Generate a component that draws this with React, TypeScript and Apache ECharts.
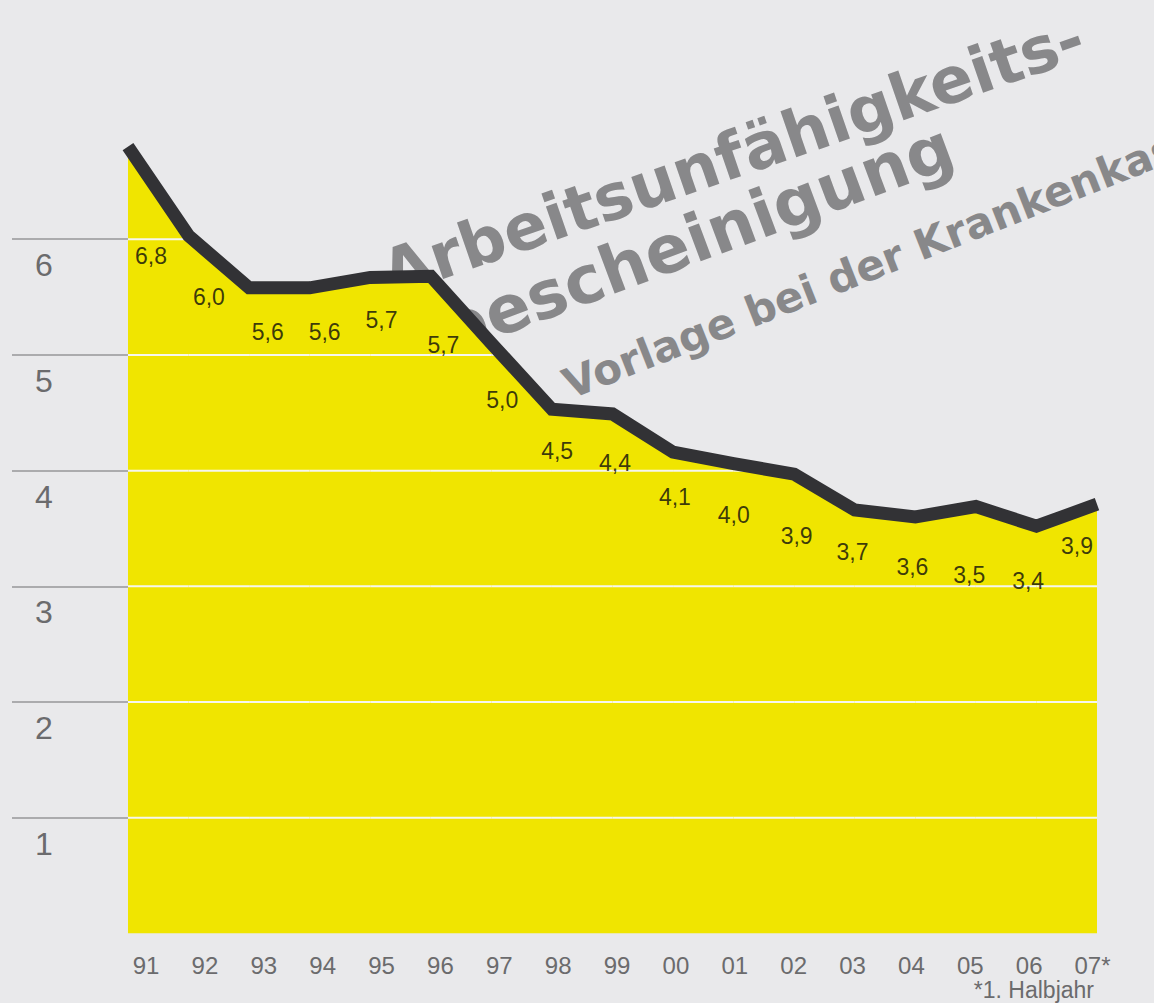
import React, { useEffect, useRef } from "react";
import * as echarts from "echarts";

// ---- data ----
const years = ["91", "92", "93", "94", "95", "96", "97", "98", "99", "00", "01", "02", "03", "04", "05", "06", "07*"];
// values as traced by the drawn line
const lineValues = [6.8, 6.03, 5.58, 5.58, 5.67, 5.68, 5.1, 4.53, 4.49, 4.16, 4.06, 3.97, 3.66, 3.6, 3.69, 3.52, 3.71];
// printed values
const labelValues = [6.8, 6.0, 5.6, 5.6, 5.7, 5.7, 5.0, 4.5, 4.4, 4.1, 4.0, 3.9, 3.7, 3.6, 3.5, 3.4, 3.9];
const yTicks = [1, 2, 3, 4, 5, 6];
const footnote = "*1. Halbjahr";
const watermark = ["Arbeitsunfähigkeits-", "bescheinigung", "Vorlage bei der Krankenkasse"];

// ---- styles ----
const BG = "#e9e9eb";
const YELLOW = "#f0e500";
const LINE = "#323235";
const GRID_WHITE = "#f6f6ee";
const TICK_GRAY = "#ababad";
const AXIS_TEXT = "#6b6b6d";
const WM_GRAY = "#88888a";
const FONT = "'Liberation Sans', Arial, Helvetica, sans-serif";
const WM_FONT = "'DejaVu Sans', sans-serif";
const Y_MAX = 7;
const LABEL_BASE_DY = 46;
// per-label layout nudges [dx, dy]
const labelNudge = [
  [5, 63], [4, 12], [4, 0], [2, 0], [0, 0], [3, 25], [3, -1], [-1, -8], [-2, -7],
  [-1, -8], [-1, -2], [3, 8], [0, 1], [1, 4], [-1, 0], [-1, -5], [-11, 18],
];

export default function App() {
  const ref = useRef<HTMLDivElement>(null);

  useEffect(() => {
    document.body.style.margin = "0";
    const chart = echarts.init(ref.current!, null, { renderer: "svg" });
    const last = years.length - 1;
    const deg = Math.PI / 180;

    const wmText = (text: string, x: number, y: number, rot: number, size: number) => ({
      type: "text",
      x,
      y,
      rotation: rot * deg,
      z: 1,
      silent: true,
      style: {
        text,
        fontSize: size,
        fontWeight: "bold",
        fontFamily: WM_FONT,
        fill: WM_GRAY,
        align: "left",
        verticalAlign: "middle",
      },
    });

    const option: any = {
      animation: false,
      backgroundColor: BG,
      grid: [
        { left: 128, right: 57, top: 123.5, bottom: 69.5 },
        { left: 146, right: 66, top: 123.5, bottom: 69.5 },
      ],
      xAxis: [
        { type: "category", gridIndex: 0, data: years, boundaryGap: false, show: false },
        {
          type: "category",
          gridIndex: 1,
          boundaryGap: false,
          data: years.map((y, i) => (i === last ? { value: y, textStyle: { padding: [0, 0, 0, 9] } } : y)),
          axisLine: { show: false },
          axisTick: { show: false },
          splitLine: { show: false },
          axisLabel: {
            interval: 0,
            margin: 20,
            fontSize: 24,
            color: AXIS_TEXT,
            fontFamily: FONT,
            verticalAlign: "top",
          },
        },
      ],
      yAxis: [
        {
          type: "value",
          gridIndex: 0,
          min: 0,
          max: Y_MAX,
          interval: 1,
          axisLine: { show: false },
          splitLine: { show: false },
          axisTick: {
            show: true,
            inside: false,
            length: 116,
            customValues: yTicks,
            lineStyle: { color: TICK_GRAY, width: 2 },
          },
          axisLabel: {
            customValues: yTicks,
            margin: 84,
            align: "center",
            verticalAlign: "top",
            padding: [10, 0, 0, 0],
            fontSize: 32,
            color: AXIS_TEXT,
            fontFamily: FONT,
          },
        },
        { type: "value", gridIndex: 1, min: 0, max: Y_MAX, show: false },
      ],
      graphic: [
        wmText(watermark[0], 384, 276, 19, 64),
        wmText(watermark[1], 442, 334, 20.5, 66),
        wmText(watermark[2], 565, 386, 21.5, 42),
        {
          type: "text",
          x: 1094,
          y: 990,
          z: 10,
          silent: true,
          style: {
            text: footnote,
            fontSize: 23,
            fontFamily: FONT,
            fill: AXIS_TEXT,
            align: "right",
            verticalAlign: "middle",
          },
        },
      ],
      series: [
        {
          type: "line",
          xAxisIndex: 0,
          yAxisIndex: 0,
          data: lineValues,
          symbol: "none",
          silent: true,
          z: 2,
          lineStyle: { width: 0 },
          areaStyle: { color: YELLOW, opacity: 1 },
        },
        {
          type: "custom",
          xAxisIndex: 0,
          yAxisIndex: 0,
          silent: true,
          z: 3,
          data: lineValues.map((v, i) => [i, v]),
          renderItem: (params: any, api: any) => {
            const i = params.dataIndex;
            const children: any[] = [];
            if (i < lineValues.length - 1) {
              const v0 = lineValues[i];
              const v1 = lineValues[i + 1];
              for (const lv of yTicks) {
                if (v0 < lv && v1 < lv) continue;
                let t0 = 0;
                let t1 = 1;
                if (v0 < lv) t0 = (lv - v0) / (v1 - v0);
                if (v1 < lv) t1 = (lv - v0) / (v1 - v0);
                const pa = api.coord([i, lv]);
                const pb = api.coord([i + 1, lv]);
                const xa = pa[0] + (pb[0] - pa[0]) * t0;
                const xb = pa[0] + (pb[0] - pa[0]) * t1;
                children.push({
                  type: "line",
                  shape: { x1: xa, y1: pa[1], x2: xb, y2: pa[1] },
                  style: { stroke: GRID_WHITE, lineWidth: 2 },
                });
              }
            }
            return { type: "group", children };
          },
        },
        {
          type: "line",
          xAxisIndex: 0,
          yAxisIndex: 0,
          data: lineValues,
          symbol: "none",
          silent: true,
          clip: false,
          z: 4,
          lineStyle: { width: 13, color: LINE, join: "miter", cap: "butt" },
        },
        {
          type: "scatter",
          xAxisIndex: 1,
          yAxisIndex: 1,
          symbolSize: 1,
          silent: true,
          z: 5,
          itemStyle: { color: "rgba(0,0,0,0)" },
          data: labelValues.map((v, i) => ({
            value: v,
            label: { offset: [labelNudge[i][0], LABEL_BASE_DY + labelNudge[i][1]] },
          })),
          label: {
            show: true,
            position: "inside",
            fontSize: 23,
            color: "#0c0c0c",
            fontFamily: FONT,
            formatter: (p: any) => Number(p.value).toFixed(1).replace(".", ","),
          },
        },
      ],
    };

    chart.setOption(option);
    return () => chart.dispose();
  }, []);

  return (
    <div
      ref={ref}
      style={{ position: "absolute", left: 0, top: 0, width: 1154, height: 1003 }}
    />
  );
}
